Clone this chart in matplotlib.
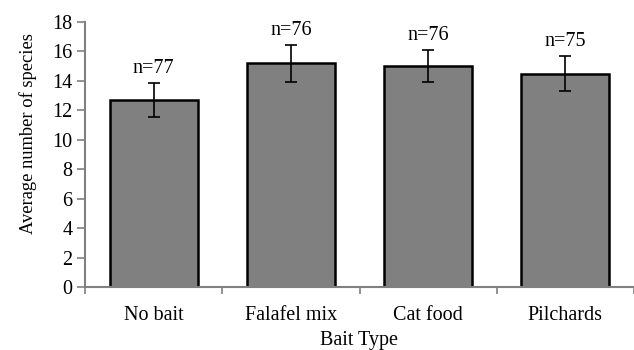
import numpy as np
import matplotlib.pyplot as plt

plt.rcParams['font.family'] = ['Liberation Serif', 'DejaVu Serif']

# data
baits = ['No bait', 'Falafel mix', 'Cat food', 'Pilchards']
means = [12.7, 15.2, 15.0, 14.5]
errs = [1.15, 1.25, 1.1, 1.2]
ns = ['n=77', 'n=76', 'n=76', 'n=75']

fs = 14.5
fig = plt.figure(figsize=(6.34, 3.5), dpi=100)
ax = fig.add_axes([85 / 634, 1 - 287 / 350, 549 / 634, 265 / 350])

x = np.arange(len(baits))
ax.bar(x, means, width=0.64, color='#808080', edgecolor='black', linewidth=1.8, zorder=2)
ax.errorbar(x, means, yerr=errs, fmt='none', ecolor='black', elinewidth=1.2,
            capsize=4, capthick=1.2, zorder=3)

for xi, m, e, lab in zip(x, means, errs, ns):
    ax.annotate(lab, (xi, m + e), xytext=(0, 10.5), textcoords='offset points',
                ha='center', va='center', fontsize=fs)

ax.set_xlim(-0.5, len(baits) - 0.5)
ax.set_ylim(0, 18)
ax.set_yticks(np.arange(0, 19, 2))
ax.set_xticks(x)
ax.set_xticklabels(baits, fontsize=fs)
ax.set_xticks(np.arange(-0.5, len(baits), 1), minor=True)
ax.tick_params(axis='x', which='major', length=0, pad=14)
ax.tick_params(axis='x', which='minor', length=5, color='#808080', width=1.2)
ax.tick_params(axis='y', length=6, color='#808080', width=1.2, labelsize=fs, pad=3)

for s in ['top', 'right']:
    ax.spines[s].set_visible(False)
for s in ['left', 'bottom']:
    ax.spines[s].set_color('#808080')
    ax.spines[s].set_linewidth(1.5)

ax.set_xlabel('Bait Type', fontsize=fs, labelpad=4)
ax.set_ylabel('Average number of species', fontsize=13.3)
ax.yaxis.set_label_coords(-0.088, 0.58)

fig.savefig('out.png', dpi=100)
